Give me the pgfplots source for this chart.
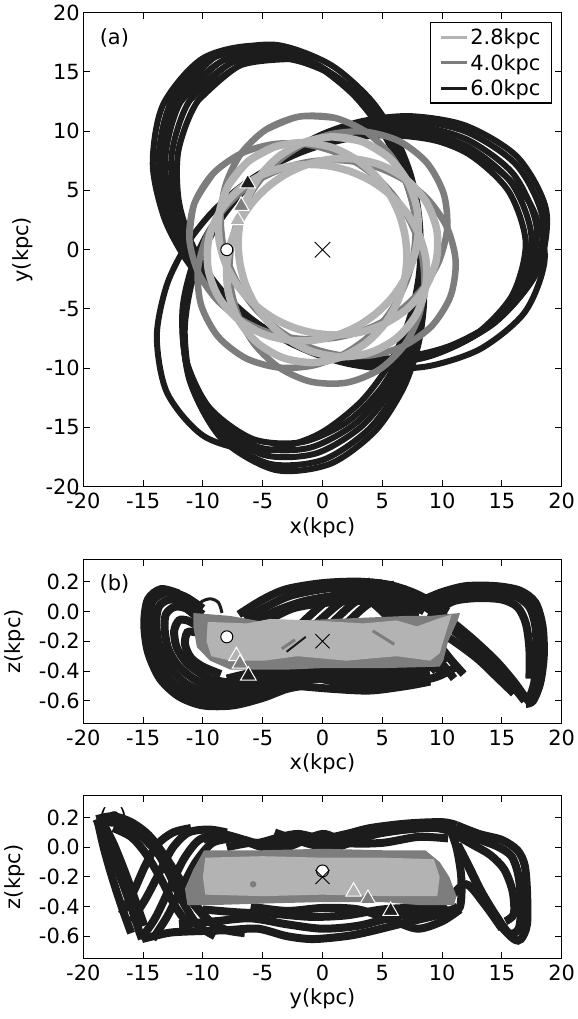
\documentclass[border=0pt]{standalone}
\usepackage{pgfplots}
\pgfplotsset{compat=1.18}
\usepackage{fontspec}
\setmainfont{DejaVu Sans}
\definecolor{dk}{HTML}{1C1C1C}
\definecolor{mg}{HTML}{7D7D7D}
\definecolor{lg}{HTML}{B3B3B3}
\begin{document}
\begin{tikzpicture}
\path[use as bounding box] (0bp,0bp) rectangle (578bp,1019bp);
\pgfplotsset{
  every axis/.append style={
    scale only axis, width=478.4bp,
    font=\fontsize{21}{25}\selectfont,
    tick label style={font=\fontsize{21}{25}\selectfont},
    axis line style={line width=1.2bp},
    major tick length=6.5bp,
    tick style={black, line width=1bp},
    xmin=-20, xmax=20, xtick={-20,-15,...,20},
    xticklabels={-20,-15,-10,-5,0,5,10,15,20},
    xticklabel style={yshift=-3bp},
    every axis x label/.style={at={(axis description cs:0.5,0)}, anchor=north, yshift=-27bp},
  },
  orbD/.style={dk, line width=6bp, smooth, data cs=polar},
  orbM/.style={mg, line width=6.5bp, smooth, data cs=polar},
  orbL/.style={lg, line width=7.5bp, smooth, data cs=polar},
  zl/.style={dk, line width=8bp, smooth},
}
% ---------------- panel (a) ----------------
\begin{axis}[at={(83.3bp,532.3bp)}, anchor=south west, height=474bp,
  ymin=-20, ymax=20, ytick={-20,-15,...,20},
  yticklabels={-20,-15,-10,-5,0,5,10,15,20},
  xlabel={x(kpc)},
  every axis y label/.style={at={(axis description cs:0,0.5)}, anchor=center, xshift=-61bp, rotate=90},
  ylabel={y(kpc)},
  legend cell align=left,
  legend image code/.code={\draw[#1] (0bp,0bp) -- (26bp,0bp);},
  legend style={at={(0.98,0.98)}, anchor=north east, draw=black, line width=1.3bp,
     font=\fontsize{21}{25}\selectfont, inner xsep=9bp, inner ysep=4bp, row sep=4bp},
]
\addlegendimage{lg, line width=3bp}\addlegendentry{2.8kpc}
\addlegendimage{mg, line width=3bp}\addlegendentry{4.0kpc}
\addlegendimage{dk, line width=3bp}\addlegendentry{6.0kpc}
% 6.0 kpc orbit, (angle in degrees, radius in kpc)
\addplot[orbD] coordinates {(100,16.33)
(114,17.00)(129.5,16.33)(145,14.69)(160.5,12.77)(176,11.06)(191.5,9.76)(207,8.87)(222.5,8.36)(238,8.20)(253.5,8.36)(269,8.87)(284.5,9.76)(300,11.06)(315.5,12.77)(331,14.69)(346.5,16.33)
(362,17.00)(377.5,16.33)(393,14.69)(408.5,12.77)(424,11.06)(439.5,9.76)(455,8.87)(470.5,8.36)(486,8.20)(501.5,8.36)(517,8.87)(532.5,9.76)(548,11.06)(563.5,12.77)(579,14.69)(594.5,16.33)
(610,17.00)(624,16.33)(638,14.69)(652,12.77)(666,11.06)(680,9.76)(694,8.87)(708,8.36)(722,8.20)(736,8.36)(750,8.87)(764,9.76)(778,11.06)(792,12.77)(806,14.69)(820,16.33)
(834,17.00)(849.5,16.33)};
\addplot[orbD] coordinates {(102,16.78)
(116,17.50)(131.5,16.78)(147,15.01)(162.5,12.96)(178,11.17)(193.5,9.81)(209,8.89)(224.5,8.37)(240,8.20)(255.5,8.37)(271,8.89)(286.5,9.81)(302,11.17)(317.5,12.96)(333,15.01)(348.5,16.78)
(364,17.50)(379.5,16.78)(395,15.01)(410.5,12.96)(426,11.17)(441.5,9.81)(457,8.89)(472.5,8.37)(488,8.20)(503.5,8.37)(519,8.89)(534.5,9.81)(550,11.17)(565.5,12.96)(581,15.01)(596.5,16.78)
(612,17.50)(626,16.78)(640,15.01)(654,12.96)(668,11.17)(682,9.81)(696,8.89)(710,8.37)(724,8.20)(738,8.37)(752,8.89)(766,9.81)(780,11.17)(794,12.96)(808,15.01)(822,16.78)
(836,17.50)(851.5,16.78)};
\addplot[orbD] coordinates {(104,17.22)
(118,18.00)(133.5,17.22)(149,15.32)(164.5,13.15)(180,11.27)(195.5,9.86)(211,8.91)(226.5,8.37)(242,8.20)(257.5,8.37)(273,8.91)(288.5,9.86)(304,11.27)(319.5,13.15)(335,15.32)(350.5,17.22)
(366,18.00)(381.5,17.22)(397,15.32)(412.5,13.15)(428,11.27)(443.5,9.86)(459,8.91)(474.5,8.37)(490,8.20)(505.5,8.37)(521,8.91)(536.5,9.86)(552,11.27)(567.5,13.15)(583,15.32)(598.5,17.22)
(614,18.00)(628,17.22)(642,15.32)(656,13.15)(670,11.27)(684,9.86)(698,8.91)(712,8.37)(726,8.20)(740,8.37)(754,8.91)(768,9.86)(782,11.27)(796,13.15)(810,15.32)(824,17.22)
(838,18.00)(853.5,17.22)};
\addplot[orbD] coordinates {(106,17.75)
(120,18.60)(135.5,17.75)(151,15.69)(166.5,13.37)(182,11.38)(197.5,9.91)(213,8.93)(228.5,8.38)(244,8.20)(259.5,8.38)(275,8.93)(290.5,9.91)(306,11.38)(321.5,13.37)(337,15.69)(352.5,17.75)
(368,18.60)(383.5,17.75)(399,15.69)(414.5,13.37)(430,11.38)(445.5,9.91)(461,8.93)(476.5,8.38)(492,8.20)(507.5,8.38)(523,8.93)(538.5,9.91)(554,11.38)(569.5,13.37)(585,15.69)(600.5,17.75)
(616,18.60)(630,17.75)(644,15.69)(658,13.37)(672,11.38)(686,9.91)(700,8.93)(714,8.38)(728,8.20)(742,8.38)(756,8.93)(770,9.91)(784,11.38)(798,13.37)(812,15.69)(826,17.75)
(840,18.60)(855.5,17.75)};
\addplot[orbD] coordinates {(108,18.09)
(122,19.00)(137.5,18.09)(153,15.93)(168.5,13.51)(184,11.46)(199.5,9.95)(215,8.95)(230.5,8.38)(246,8.20)(261.5,8.38)(277,8.95)(292.5,9.95)(308,11.46)(323.5,13.51)(339,15.93)(354.5,18.09)
(370,19.00)(385.5,18.09)(401,15.93)(416.5,13.51)(432,11.46)(447.5,9.95)(463,8.95)(478.5,8.38)(494,8.20)(509.5,8.38)(525,8.95)(540.5,9.95)(556,11.46)(571.5,13.51)(587,15.93)(602.5,18.09)
(618,19.00)(632,18.09)(646,15.93)(660,13.51)(674,11.46)(688,9.95)(702,8.95)(716,8.38)(730,8.20)(744,8.38)(758,8.95)(772,9.95)(786,11.46)(800,13.51)(814,15.93)(828,18.09)
(842,19.00)(857.5,18.09)};
\addplot[orbD] coordinates {(103,17.75)(118,18.60)(133,17.75)(148,15.69)(163,13.37)(178,11.38)(193,9.91)(208,8.93)(223,8.38)(238,8.20)(253,8.38)(268,8.93)(283,9.91)(298,11.38)(313,13.37)(328,15.69)(343,17.75)
(358,18.60)(373,17.75)(388,15.69)(403,13.37)(418,11.38)(433,9.91)(448,8.93)(463,8.38)(478,8.20)(493,8.38)(508,8.93)(523,9.91)(538,11.38)(553,13.37)(568,15.69)(583,17.75)
(598,18.60)(613,17.75)(628,15.69)(643,13.37)(658,11.38)(673,9.91)(688,8.93)(703,8.38)(718,8.20)(733,8.38)(748,8.93)(763,9.91)(778,11.38)(793,13.37)(808,15.69)(823,17.75)
(838,18.60)(853,17.75)};
% 4.0 kpc orbit
\addplot[orbM] coordinates {(85,11.18)(100,11.40)(115,11.18)(130,10.59)(145,9.82)(160,9.05)(175,8.39)(190,7.90)(205,7.60)(220,7.50)(235,7.60)(250,7.90)(265,8.39)(280,9.05)(295,9.82)(310,10.59)(325,11.18)
(340,11.40)(355,11.18)(370,10.59)(385,9.82)(400,9.05)(415,8.39)(430,7.90)(445,7.60)(460,7.50)(475,7.60)(490,7.90)(505,8.39)(520,9.05)(535,9.82)(550,10.59)(565,11.18)
(580,11.40)(595,11.18)(610,10.59)(625,9.82)(640,9.05)(655,8.39)(670,7.90)(685,7.60)(700,7.50)(715,7.60)(730,7.90)(745,8.39)(760,9.05)(775,9.82)(790,10.59)(805,11.18)
(820,11.40)(835,11.18)};
\addplot[orbM] coordinates {(145,11.18)(160,11.40)(175,11.18)(190,10.59)(205,9.82)(220,9.05)(235,8.39)(250,7.90)(265,7.60)(280,7.50)(295,7.60)(310,7.90)(325,8.39)(340,9.05)(355,9.82)(370,10.59)(385,11.18)
(400,11.40)(415,11.18)(430,10.59)(445,9.82)(460,9.05)(475,8.39)(490,7.90)(505,7.60)(520,7.50)(535,7.60)(550,7.90)(565,8.39)(580,9.05)(595,9.82)(610,10.59)(625,11.18)
(640,11.40)(655,11.18)(670,10.59)(685,9.82)(700,9.05)(715,8.39)(730,7.90)(745,7.60)(760,7.50)(775,7.60)(790,7.90)(805,8.39)(820,9.05)(835,9.82)(850,10.59)(865,11.18)
(880,11.40)(895,11.18)};
% 2.8 kpc orbit
\addplot[orbL] coordinates {(55,9.56)(70,9.70)(85,9.56)(100,9.18)(115,8.67)(130,8.13)(145,7.66)(160,7.30)(175,7.08)(190,7.00)(205,7.08)(220,7.30)(235,7.66)(250,8.13)(265,8.67)(280,9.18)(295,9.56)
(310,9.70)(325,9.56)(340,9.18)(355,8.67)(370,8.13)(385,7.66)(400,7.30)(415,7.08)(430,7.00)(445,7.08)(460,7.30)(475,7.66)(490,8.13)(505,8.67)(520,9.18)(535,9.56)
(550,9.70)(565,9.56)(580,9.18)(595,8.67)(610,8.13)(625,7.66)(640,7.30)(655,7.08)(670,7.00)(685,7.08)(700,7.30)(715,7.66)(730,8.13)(745,8.67)(760,9.18)(775,9.56)
(790,9.70)(805,9.56)};
\addplot[orbL] coordinates {(115,9.56)(130,9.70)(145,9.56)(160,9.18)(175,8.67)(190,8.13)(205,7.66)(220,7.30)(235,7.08)(250,7.00)(265,7.08)(280,7.30)(295,7.66)(310,8.13)(325,8.67)(340,9.18)(355,9.56)
(370,9.70)(385,9.56)(400,9.18)(415,8.67)(430,8.13)(445,7.66)(460,7.30)(475,7.08)(490,7.00)(505,7.08)(520,7.30)(535,7.66)(550,8.13)(565,8.67)(580,9.18)(595,9.56)
(610,9.70)(625,9.56)(640,9.18)(655,8.67)(670,8.13)(685,7.66)(700,7.30)(715,7.08)(730,7.00)(745,7.08)(760,7.30)(775,7.66)(790,8.13)(805,8.67)(820,9.18)(835,9.56)
(850,9.70)(865,9.56)};
% markers
\addplot[only marks, mark=x, mark size=11bp, mark options={draw=black, line width=0.9bp}] coordinates {(0,0)};
\addplot[only marks, mark=*, mark size=6bp, mark options={fill=white, draw=black, line width=1bp}] coordinates {(-8.0,0)};
\addplot[only marks, mark=triangle*, mark size=9bp, mark options={fill=lg, draw=white, line width=1bp}] coordinates {(-7.1,2.5)};
\addplot[only marks, mark=triangle*, mark size=9bp, mark options={fill=mg, draw=white, line width=1bp}] coordinates {(-6.8,3.7)};
\addplot[only marks, mark=triangle*, mark size=9bp, mark options={fill=dk, draw=white, line width=1bp}] coordinates {(-6.25,5.6)};
\node at (axis cs:-17.4,17.9) {(a)};
\end{axis}
% ---------------- panel (b) ----------------
\begin{axis}[at={(83.3bp,295.7bp)}, anchor=south west, height=164bp,
  ymin=-0.75, ymax=0.35, ytick={-0.6,-0.4,-0.2,0,0.2},
  yticklabels={-0.6,-0.4,-0.2,0.0,0.2},
  xlabel={x(kpc)},
  every axis y label/.style={at={(axis description cs:0,0.5)}, anchor=center, xshift=-69bp, rotate=90},
  ylabel={z(kpc)},
]
% left fold
\addplot[zl] coordinates {(-12,0.12)(-13.5,0.15)(-14.6,0.08)(-14.9,-0.08)(-14.6,-0.27)(-13.6,-0.45)(-12,-0.57)(-10,-0.63)(-7.5,-0.63)(-5,-0.58)(-3,-0.52)(-1,-0.49)};
\addplot[zl] coordinates {(-10.0,0.02)(-11.5,0.10)(-13.0,0.13)(-14.2,0.07)(-14.5,-0.07)(-14.2,-0.24)(-13.2,-0.41)(-11.7,-0.53)(-9.5,-0.59)(-7.0,-0.59)(-4.5,-0.54)(-2.5,-0.48)(0,-0.45)(3,-0.47)(6,-0.49)(9,-0.46)};
\addplot[zl] coordinates {(-10.0,-0.02)(-11.5,0.06)(-12.8,0.08)(-13.7,0.03)(-13.9,-0.09)(-13.6,-0.24)(-12.7,-0.38)(-11.3,-0.49)(-9.3,-0.55)(-7.0,-0.56)(-4.6,-0.50)(-2.6,-0.44)(0,-0.41)(3,-0.43)(6,-0.45)(9,-0.42)};
\addplot[zl] coordinates {(-10.2,-0.06)(-11.4,0.02)(-12.4,0.03)(-13.1,-0.02)(-13.2,-0.12)(-12.9,-0.25)(-12.1,-0.36)(-10.8,-0.45)(-9.0,-0.51)(-7.0,-0.52)(-5.0,-0.47)(-3,-0.41)(-1,-0.37)(2,-0.38)(5,-0.40)(8,-0.38)};
\addplot[zl] coordinates {(-10.4,-0.10)(-11.3,-0.06)(-12.0,-0.06)(-12.4,-0.13)(-12.2,-0.24)(-11.4,-0.34)(-10.3,-0.41)(-9.0,-0.46)(-7.0,-0.48)(-5.5,-0.44)(-4,-0.40)};
\addplot[zl] coordinates {(-10.6,-0.14)(-11.3,-0.14)(-11.5,-0.22)(-11.0,-0.31)(-10,-0.37)(-8.5,-0.42)};
\addplot[zl, line width=3bp] coordinates {(-10.6,-0.01)(-10.2,0.06)(-9.4,0.085)(-8.7,0.06)(-8.4,-0.01)};
% top arcs
\addplot[zl] coordinates {(-7,-0.02)(-5,0.08)(-3,0.15)(0,0.19)(3,0.20)(5.5,0.18)(7.5,0.13)(9,0.07)(10.5,0.0)};
\addplot[zl] coordinates {(-6.5,-0.05)(-4.5,0.04)(-2.5,0.11)(0.5,0.155)(3.5,0.16)(6,0.13)(8,0.06)(9.5,-0.02)};
\addplot[zl] coordinates {(-6,-0.08)(-4,0.0)(-1.5,0.07)(1.5,0.11)(4,0.115)(6.5,0.08)(8.5,0.0)};
\addplot[zl] coordinates {(-5,-0.08)(-2.5,0.02)(0.5,0.06)(3.5,0.07)(6,0.04)(8,-0.03)};
% rising diagonals
\addplot[zl] coordinates {(-5.5,-0.36)(-3.5,-0.22)(-1.5,-0.06)(0.5,0.08)(2.5,0.17)(4,0.2)};
\addplot[zl] coordinates {(-4.5,-0.38)(-2.5,-0.24)(-0.5,-0.08)(1.5,0.06)(3.5,0.16)(5,0.19)};
\addplot[zl] coordinates {(-3.5,-0.40)(-1.5,-0.25)(0.5,-0.1)(2.5,0.05)(4.5,0.15)(6,0.18)};
\addplot[zl] coordinates {(-2.5,-0.42)(-0.5,-0.27)(1.5,-0.12)(3.5,0.03)(5.5,0.13)(7,0.15)};
% falling diagonals
\addplot[zl] coordinates {(1,0.19)(3,0.13)(5,0.0)(6.5,-0.14)(8,-0.28)(9.5,-0.4)};
\addplot[zl] coordinates {(2,0.19)(4,0.11)(6,-0.02)(7.5,-0.16)(9,-0.32)(10,-0.42)};
\addplot[zl] coordinates {(3,0.2)(5,0.10)(7,-0.05)(8.5,-0.2)(10,-0.35)(11,-0.45)};
\addplot[zl] coordinates {(4,0.2)(6,0.09)(8,-0.06)(9.5,-0.2)(10.8,-0.33)(11.8,-0.42)};
% right loop
\addplot[zl] coordinates {(8.5,0.08)(10,0.13)(12,0.17)(14.5,0.17)(16.5,0.14)(17.8,0.06)(18.4,-0.10)(18.5,-0.30)(18.2,-0.48)(17.6,-0.60)(17.0,-0.62)};
\addplot[zl] coordinates {(9,0.04)(10.5,0.10)(12.5,0.13)(14.5,0.13)(16.2,0.10)(17.3,0.03)(17.8,-0.10)(17.9,-0.30)(17.7,-0.48)(17.3,-0.58)};
\addplot[zl] coordinates {(9.5,0.0)(11,0.07)(13,0.09)(15,0.08)(16.3,0.03)(17,-0.08)(17.3,-0.25)(17.3,-0.45)};
\addplot[zl] coordinates {(8.5,0.05)(10.5,-0.05)(12.5,-0.18)(14.5,-0.33)(16,-0.47)(17,-0.58)(17.5,-0.62)};
\addplot[zl] coordinates {(8.8,-0.02)(10.8,-0.12)(12.8,-0.25)(14.6,-0.39)(16,-0.51)(16.9,-0.60)};
\addplot[zl] coordinates {(9,-0.1)(11,-0.2)(13,-0.32)(14.7,-0.45)(16,-0.55)};
% bottom middle
\addplot[zl] coordinates {(-8,-0.45)(-5,-0.40)(-2,-0.42)(1,-0.47)(4,-0.49)(7,-0.48)(9.5,-0.44)(11,-0.38)};
\addplot[zl] coordinates {(-7,-0.52)(-4,-0.47)(-1,-0.38)(2,-0.38)(5,-0.42)(8,-0.40)(10.5,-0.3)};
\addplot[zl] coordinates {(-6,-0.42)(-3,-0.36)(0,-0.35)(3,-0.34)(6,-0.36)(9,-0.35)};
\addplot[zl] coordinates {(-2,-0.5)(1,-0.52)(4,-0.53)(7,-0.5)(9,-0.47)};
% gray regions
\addplot[fill=mg, draw=none] coordinates {(-10.8,-0.01)(-7.7,-0.03)(-4.9,-0.07)(-2,-0.06)(1,-0.05)(4,-0.04)(7,-0.03)(9,-0.03)(11.5,-0.01)(11.3,-0.06)(10.5,-0.2)(10.1,-0.33)(9.8,-0.37)(5,-0.38)(0,-0.38)(-3,-0.39)(-7.7,-0.39)(-9.4,-0.33)(-10.5,-0.24)(-10.8,-0.1)} -- cycle;
\addplot[fill=lg, draw=none] coordinates {(-9.6,-0.07)(-6.3,-0.08)(-4.4,-0.05)(-0.8,-0.06)(3.4,-0.08)(6.2,-0.06)(7.9,-0.1)(9.6,-0.05)(10.8,-0.02)(10.4,-0.12)(9.8,-0.28)(9,-0.33)(6.2,-0.30)(2,-0.33)(-2.1,-0.30)(-4.9,-0.33)(-7.7,-0.33)(-9.3,-0.30)(-9.7,-0.2)} -- cycle;
\addplot[mg, line width=3bp] coordinates {(-3.4,-0.25)(-2.3,-0.19)};
\addplot[dk, line width=2bp] coordinates {(-3.0,-0.27)(-1.4,-0.17)};
\addplot[mg, line width=3bp] coordinates {(4.2,-0.13)(6.0,-0.22)};
% markers
\addplot[only marks, mark=x, mark size=10bp, mark options={draw=black, line width=0.9bp}] coordinates {(0,-0.2)};
\addplot[only marks, mark=*, mark size=6bp, mark options={fill=white, draw=black, line width=1bp}] coordinates {(-8.0,-0.17)};
\addplot[only marks, mark=triangle*, mark size=9bp, mark options={fill=lg, draw=white, line width=1bp}] coordinates {(-7.2,-0.30)};
\addplot[only marks, mark=triangle*, mark size=9bp, mark options={fill=mg, draw=white, line width=1bp}] coordinates {(-6.9,-0.35)};
\addplot[only marks, mark=triangle*, mark size=9bp, mark options={fill=dk, draw=white, line width=1bp}] coordinates {(-6.2,-0.43)};
\node at (axis cs:-17.4,0.184) {(b)};
\end{axis}
% ---------------- panel (c) ----------------
\begin{axis}[at={(83.3bp,60.7bp)}, anchor=south west, height=162.8bp,
  ymin=-0.75, ymax=0.35, ytick={-0.6,-0.4,-0.2,0,0.2},
  yticklabels={-0.6,-0.4,-0.2,0.0,0.2},
  xlabel={y(kpc)},
  every axis y label/.style={at={(axis description cs:0,0.5)}, anchor=center, xshift=-69bp, rotate=90},
  ylabel={z(kpc)},
]
\node at (axis cs:-17.5,0.205) {(c)};
% far left
\addplot[zl] coordinates {(-18.9,0.19)(-18.0,0.02)(-17.0,-0.18)(-16.1,-0.38)(-15.4,-0.55)(-15.1,-0.62)};
\addplot[zl] coordinates {(-18.6,0.20)(-17.5,0.03)(-16.5,-0.17)(-15.6,-0.37)(-14.9,-0.53)};
\addplot[zl] coordinates {(-18.8,0.18)(-18.3,0.0)(-17.6,-0.2)(-16.8,-0.4)(-16.0,-0.58)};
\addplot[zl] coordinates {(-18.9,0.19)(-17.5,0.21)(-16,0.17)(-14.5,0.08)(-13,-0.08)(-11.5,-0.27)(-10,-0.45)(-8.5,-0.55)(-6.5,-0.58)};
\addplot[zl] coordinates {(-18.5,0.17)(-17,0.16)(-15.5,0.1)(-14,-0.02)(-12.5,-0.18)(-11,-0.36)(-9.5,-0.5)(-8,-0.56)};
\addplot[zl] coordinates {(-17.5,0.13)(-16,0.07)(-14.8,-0.04)(-13.6,-0.2)(-12.3,-0.4)(-11,-0.55)};
\addplot[zl] coordinates {(-15.2,-0.62)(-14,-0.48)(-12.8,-0.28)(-11.6,-0.08)(-10.3,0.05)(-8.5,0.09)(-7,0.05)};
\addplot[zl] coordinates {(-14.2,-0.62)(-13,-0.47)(-11.8,-0.28)(-10.6,-0.10)(-9.2,0.03)(-7.5,0.06)};
\addplot[zl] coordinates {(-16,-0.5)(-14.8,-0.35)(-13.5,-0.15)(-12.5,0.0)(-11.2,0.1)(-9.5,0.12)(-8,0.1)};
\addplot[zl] coordinates {(-15.5,0.14)(-14.2,0.02)(-13,-0.15)(-11.8,-0.35)(-10.5,-0.52)(-9,-0.6)};
\addplot[zl] coordinates {(-16.8,-0.45)(-15.8,-0.3)(-14.8,-0.12)(-13.8,0.02)(-12.5,0.1)(-11,0.13)};
% bottom band
\addplot[zl] coordinates {(-15.1,-0.62)(-13,-0.58)(-11.6,-0.57)(-8,-0.56)(-5.4,-0.55)(-3,-0.6)(-0.8,-0.62)(2,-0.6)(3.9,-0.57)(6.9,-0.51)(10,-0.45)(11.3,-0.40)};
\addplot[zl] coordinates {(-12,-0.52)(-9,-0.50)(-6,-0.48)(-3,-0.52)(0,-0.55)(3,-0.53)(6,-0.47)(9,-0.43)};
\addplot[zl] coordinates {(-10,-0.42)(-7,-0.44)(-4,-0.45)(-1,-0.47)(2,-0.46)(5,-0.42)(8,-0.41)(11,-0.43)};
\addplot[zl] coordinates {(-6,-0.4)(-3,-0.43)(0,-0.41)(3,-0.42)(6,-0.5)(8,-0.55)(10,-0.5)(11.5,-0.42)};
% top band
\addplot[zl] coordinates {(-10,0.05)(-8.5,0.09)(-6.5,0.05)(-5.4,0.03)(-3.5,0.07)(-2,0.09)(0,0.06)(2,0.09)(4,0.13)(7,0.16)(10,0.17)(11.2,0.15)};
\addplot[zl] coordinates {(-8,0.0)(-6,0.03)(-4,0.02)(-2,0.05)(0,0.03)(2,0.05)(4.5,0.09)(7,0.12)(9.5,0.13)(11,0.1)};
\addplot[zl] coordinates {(-4,0.10)(-1,0.02)(1,0.0)(3,0.05)(5,0.10)(8,0.13)};
\addplot[zl] coordinates {(-7,0.06)(-5,0.0)(-3,0.0)(0,0.09)(2,0.03)(5,0.03)(8,0.07)(10.5,0.06)};
% right loop
\addplot[zl] coordinates {(11.2,0.15)(13.1,0.09)(15.0,0.05)(16.3,-0.02)(16.9,-0.12)(17.1,-0.3)(17.1,-0.52)(16.6,-0.62)(16.0,-0.62)(14.8,-0.52)(13.6,-0.36)(12.6,-0.2)(11.6,-0.03)};
\addplot[zl] coordinates {(11,0.12)(12.8,0.06)(14.5,0.01)(15.8,-0.06)(16.4,-0.2)(16.6,-0.4)(16.4,-0.55)(15.6,-0.58)(14.5,-0.46)(13.3,-0.3)(12.2,-0.12)(11.3,0.02)};
\addplot[zl] coordinates {(10.8,0.1)(12.5,0.02)(14,-0.05)(15.2,-0.15)(15.9,-0.3)(16,-0.45)(15.3,-0.5)};
\addplot[zl] coordinates {(10.5,0.16)(11.2,0.0)(11.6,-0.2)(11.5,-0.4)(10.5,-0.47)};
\addplot[zl] coordinates {(9,-0.45)(10.5,-0.35)(12,-0.25)(13.5,-0.38)(15,-0.55)};
% gray regions
\addplot[fill=mg, draw=none] coordinates {(-9.9,-0.02)(-5,-0.02)(0,-0.01)(5,-0.02)(8.6,-0.02)(9.8,-0.10)(10.6,-0.20)(11.2,-0.33)(11.0,-0.39)(8,-0.39)(5,-0.37)(0,-0.37)(-5,-0.38)(-9,-0.39)(-11.3,-0.39)(-11.5,-0.28)(-10.8,-0.15)} -- cycle;
\addplot[fill=lg, draw=none] coordinates {(-9.8,-0.07)(-5,-0.06)(0,-0.07)(5,-0.07)(9.3,-0.08)(9.8,-0.20)(9.6,-0.33)(5,-0.33)(0,-0.32)(-5,-0.33)(-9.8,-0.32)(-10,-0.20)} -- cycle;
\addplot[only marks, mark=*, mark size=3bp, mark options={fill=mg, draw=mg}] coordinates {(-5.8,-0.25)};
% markers
\addplot[only marks, mark=*, mark size=6bp, mark options={fill=white, draw=black, line width=1bp}] coordinates {(0,-0.16)};
\addplot[only marks, mark=x, mark size=10bp, mark options={draw=black, line width=0.9bp}] coordinates {(0,-0.2)};
\addplot[only marks, mark=triangle*, mark size=9bp, mark options={fill=lg, draw=white, line width=1bp}] coordinates {(2.6,-0.30)};
\addplot[only marks, mark=triangle*, mark size=9bp, mark options={fill=mg, draw=white, line width=1bp}] coordinates {(3.8,-0.35)};
\addplot[only marks, mark=triangle*, mark size=9bp, mark options={fill=dk, draw=white, line width=1bp}] coordinates {(5.7,-0.43)};
\end{axis}
\end{tikzpicture}
\end{document}
